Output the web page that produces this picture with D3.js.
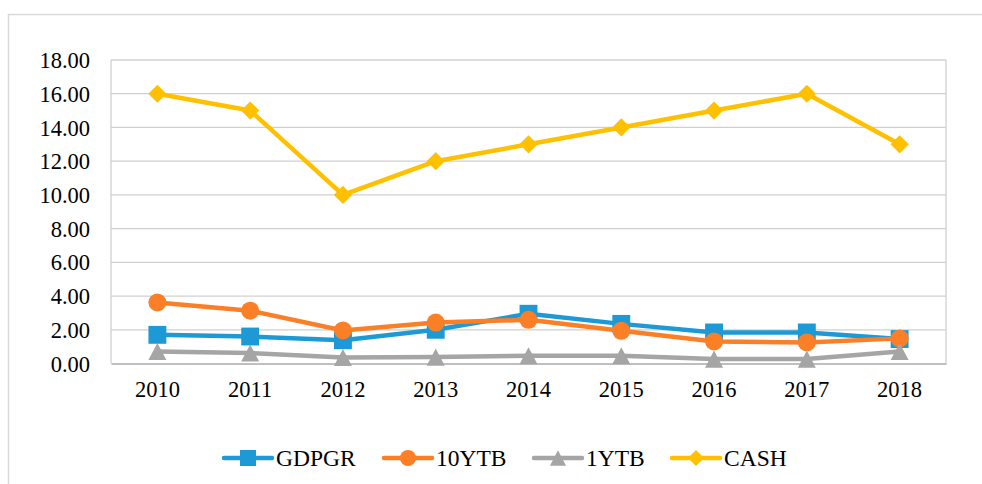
<!DOCTYPE html>
<html><head><meta charset="utf-8">
<script src="https://cdn.jsdelivr.net/npm/d3@7"></script>
<style>body{margin:0;background:#fff;}svg{display:block;font-family:"Liberation Serif","Times New Roman",serif;}</style>
</head><body><svg id="c" width="982" height="484"></svg>
<script>
const years = ["2010","2011","2012","2013","2014","2015","2016","2017","2018"];
const gdpgr = [1.70,1.60,1.38,2.00,2.95,2.35,1.84,1.84,1.45];
const ytb10 = [3.62,3.13,1.96,2.43,2.59,1.94,1.31,1.25,1.49];
const ytb1 = [0.71,0.62,0.36,0.38,0.46,0.46,0.26,0.26,0.71];
const cash = [16,15,10,12,13,14,15,16,13];
const yTicks = [0,2,4,6,8,10,12,14,16,18];
const seriesNames = ["GDPGR","10YTB","1YTB","CASH"];
const seriesColors = ["#1d9ad6","#fb7f27","#a5a5a5","#ffc000"];
const seriesData = [gdpgr, ytb10, ytb1, cash];

const diamond = {draw(ctx,size){const r=Math.sqrt(size/2);ctx.moveTo(0,-r);ctx.lineTo(r,0);ctx.lineTo(0,r);ctx.lineTo(-r,0);ctx.closePath();}};
const triangle = {draw(ctx,size){const s=Math.sqrt(size)/2;ctx.moveTo(0,-s*0.95);ctx.lineTo(s,s*0.95);ctx.lineTo(-s,s*0.95);ctx.closePath();}};
const seriesShapes = [d3.symbolSquare, d3.symbolCircle, triangle, diamond];
const seriesSizes = [320, 254, 324, 165];

const svg = d3.select("#c");
svg.append("rect").attr("x",8.5).attr("y",14.5).attr("width",1000).attr("height",500)
  .attr("fill","none").attr("stroke","#d9d9d9").attr("stroke-width",1.5);

const L=111, R=946, T=60, B=363.5;
const x = d3.scaleBand().domain(years).range([L,R]);
const y = d3.scaleLinear().domain([0,18]).range([B,T]);

const grid = svg.append("g");
grid.selectAll("line").data(yTicks.filter(d=>d>0)).join("line")
  .attr("x1",L).attr("x2",R).attr("y1",d=>y(d)).attr("y2",d=>y(d))
  .attr("stroke","#d0d0d0").attr("stroke-width",1.3);
grid.append("line").attr("x1",L).attr("x2",L).attr("y1",T).attr("y2",B).attr("stroke","#d0d0d0").attr("stroke-width",1.3);
grid.append("line").attr("x1",R).attr("x2",R).attr("y1",T).attr("y2",B).attr("stroke","#d0d0d0").attr("stroke-width",1.3);

const yAxis = svg.append("g").attr("transform",`translate(${L},0)`)
  .call(d3.axisLeft(y).tickValues(yTicks).tickFormat(d3.format(".2f")).tickSize(0).tickPadding(21));
yAxis.select(".domain").remove();
yAxis.selectAll("text").attr("font-size",22.5).attr("fill","#000").attr("font-family","Liberation Serif").attr("dy","0.34em");

const xAxis = svg.append("g").attr("transform",`translate(0,${B})`)
  .call(d3.axisBottom(x).tickSize(0).tickPadding(18));
xAxis.select(".domain").attr("stroke","#bfbfbf").attr("stroke-width",2);
xAxis.selectAll("text").attr("font-size",22.5).attr("fill","#000").attr("font-family","Liberation Serif");

const line = d3.line().x((d,i)=>x(years[i])+x.bandwidth()/2).y(d=>y(d));
seriesData.forEach((data,k)=>{
  const g = svg.append("g");
  g.append("path").datum(data).attr("d",line).attr("fill","none")
    .attr("stroke",seriesColors[k]).attr("stroke-width",4.5).attr("stroke-linejoin","round");
  g.selectAll("path.m").data(data).join("path").attr("class","m")
    .attr("transform",(d,i)=>`translate(${x(years[i])+x.bandwidth()/2},${y(d)})`)
    .attr("d",d3.symbol().type(seriesShapes[k]).size(seriesSizes[k]))
    .attr("fill",seriesColors[k]);
});

const legendX = [223, 383, 533, 671];
const ly = 458;
seriesNames.forEach((name,k)=>{
  const g = svg.append("g").attr("transform",`translate(${legendX[k]},${ly})`);
  g.append("line").attr("x1",1).attr("x2",49).attr("y1",0).attr("y2",0)
    .attr("stroke",seriesColors[k]).attr("stroke-width",4.5).attr("stroke-linecap","round");
  g.append("path").attr("transform","translate(25,0)")
    .attr("d",d3.symbol().type(seriesShapes[k]).size(seriesSizes[k]*0.8)).attr("fill",seriesColors[k]);
  g.append("text").attr("x",53).attr("y",0).attr("dy","0.34em").attr("font-size",23.5).attr("fill","#000").text(name);
});
</script></body></html>
